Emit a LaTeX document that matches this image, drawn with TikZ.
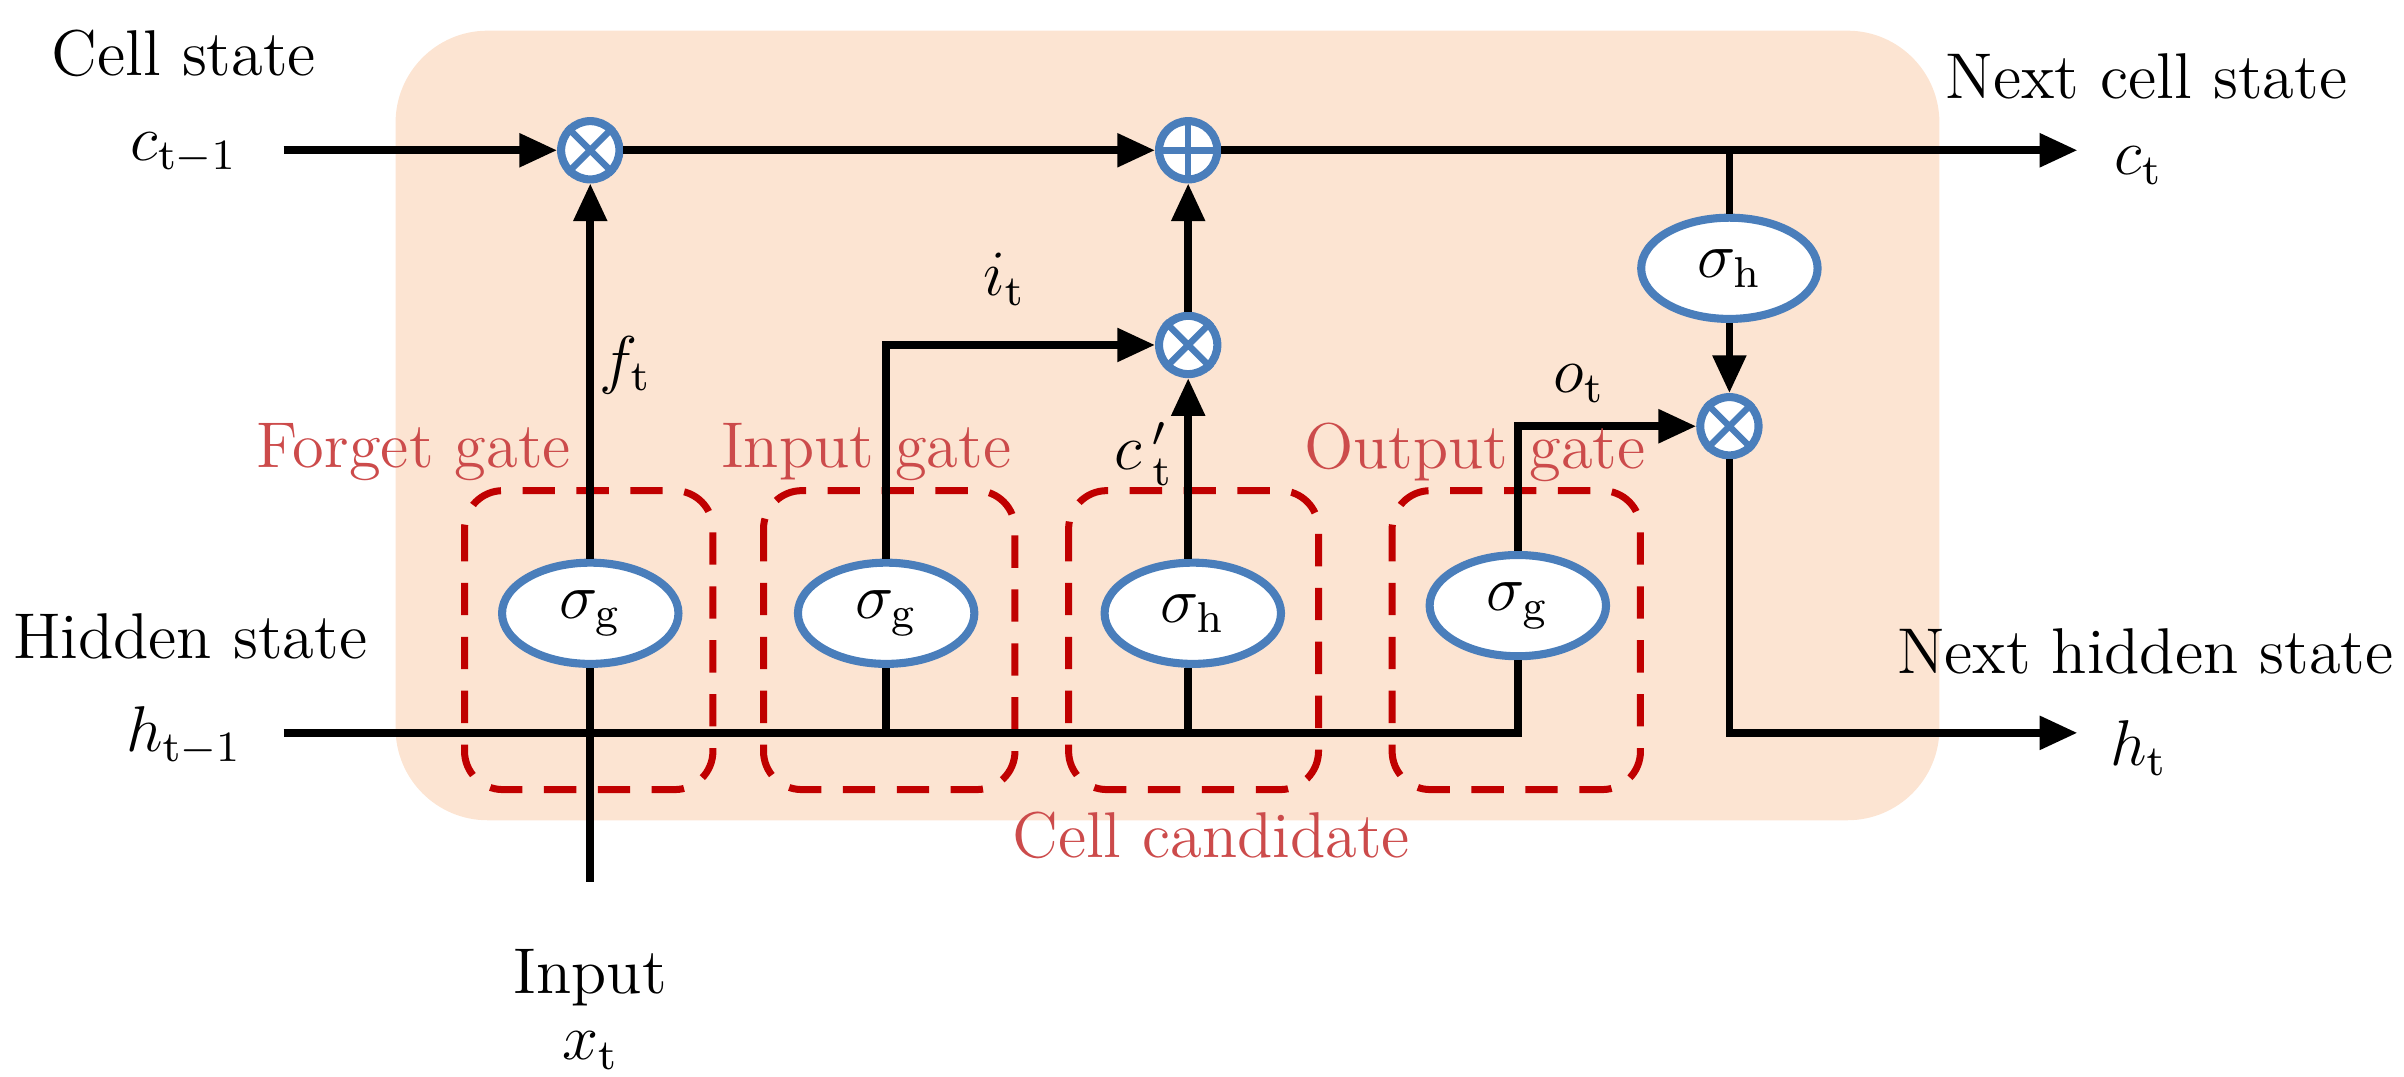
\documentclass[tikz,border=0pt]{standalone}
\usetikzlibrary{shapes.geometric,arrows.meta}
\definecolor{peach}{HTML}{FCE4D2}
\definecolor{gblue}{HTML}{4A7EBB}
\definecolor{dred}{HTML}{C00000}
\definecolor{lred}{HTML}{CC4B4B}
\begin{document}
\begin{tikzpicture}[x=0.01cm,y=-0.01cm,
  every node/.style={font=\fontsize{12}{14}\selectfont},
  wire/.style={line width=1.4pt},
  arr/.style={wire,-{Triangle[length=7pt,width=6pt]}},
  sig/.style={ellipse,draw=gblue,line width=1.5pt,fill=white,minimum width=1.15cm,minimum height=0.66cm,inner sep=0pt},
  opc/.style={circle,draw=gblue,line width=1.5pt,fill=white,minimum size=0.38cm,inner sep=0pt},
  gatebox/.style={draw=dred,line width=1.3pt,rounded corners=0.25cm,dash pattern=on 6pt off 4pt},
  glab/.style={text=lred,font=\fontsize{12}{14}\selectfont}]
\useasboundingbox (0,0) rectangle (1568,702);
\fill[peach,rounded corners=0.6cm] (258,20) rectangle (1265,535);
% gate boxes
\draw[gatebox] (303,320) rectangle (465,515);
\draw[gatebox] (498,320) rectangle (662,515);
\draw[gatebox] (697,320) rectangle (860,515);
\draw[gatebox] (908,320) rectangle (1070,515);
% operators
\node[opc] (m1) at (385,98) {};
\node[opc] (p1) at (775,98) {};
\node[opc] (m2) at (775,225) {};
\node[opc] (m3) at (1128,278) {};
\foreach \n in {m1,m2,m3}{\draw[gblue,line width=1.2pt] (\n.north east)--(\n.south west) (\n.north west)--(\n.south east);}
\draw[gblue,line width=1.2pt] (p1.north)--(p1.south) (p1.west)--(p1.east);
% sigmas
\node[sig] (sf) at (385,400) {$\sigma_{\mathrm{g}}$};
\node[sig] (si) at (578,400) {$\sigma_{\mathrm{g}}$};
\node[sig] (sc) at (778,400) {$\sigma_{\mathrm{h}}$};
\node[sig] (so) at (990,395) {$\sigma_{\mathrm{g}}$};
\node[sig] (sh) at (1128,175) {$\sigma_{\mathrm{h}}$};
% coordinates
\coordinate (cin) at (185,98);
\coordinate (cout) at (1355,98);
\coordinate (hin) at (185,478);
\coordinate (hout) at (1355,478);
\coordinate (xin) at (385,575);
\coordinate (tap) at (1128,98);
% cell line
\draw[arr] (cin) -- (m1);
\draw[arr] (m1) -- (p1);
\draw[arr] (p1) -- (cout);
% hidden line
\draw[wire] (hin) -- (990,478) -- (so);
\draw[wire] (xin) -- (sf);
\draw[arr] (sf) -- (m1);
\draw[wire] (578,478) -- (si);
\draw[arr] (si) |- (m2);
\draw[wire] (775,478) -- (sc.south -| 775,0);
\draw[arr] (sc.north -| 775,0) -- (m2);
\draw[arr] (m2) -- (p1);
\draw[arr] (so.north) |- (m3);
\draw[wire] (tap) -- (sh);
\draw[arr] (sh) -- (m3);
\draw[arr] (m3) |- (hout);
% labels
\node (l1) at (120,35) {Cell state};
\node (l2) at (120,100) {$c_{\mathrm{t-1}}$};
\node (l3) at (1400,50) {Next cell state};
\node (l4) at (1395,108) {$c_{\mathrm{t}}$};
\node[anchor=west,inner xsep=0pt] (l5) at (8,415) {Hidden state};
\node (l6) at (120,480) {$h_{\mathrm{t-1}}$};
\node[anchor=east,inner xsep=0pt] (l7) at (1562,425) {Next hidden state};
\node (l8) at (1395,488) {$h_{\mathrm{t}}$};
\node (l9) at (385,638) {Input};
\node (l10) at (385,685) {$x_{\mathrm{t}}$};
\node (l11) at (408,238) {$f_{\mathrm{t}}$};
\node (l12) at (655,182) {$i_{\mathrm{t}}$};
\node (l13) at (746,296) {$c\,'_{\mathrm{t}}$};
\node (l14) at (1030,250) {$o_{\mathrm{t}}$};
\node[glab] (g1) at (270,295) {Forget gate};
\node[glab] (g2) at (565,295) {Input gate};
\node[glab] (g3) at (962,295) {Output gate};
\node[glab] (g4) at (790,545) {Cell candidate};
\end{tikzpicture}
\end{document}
